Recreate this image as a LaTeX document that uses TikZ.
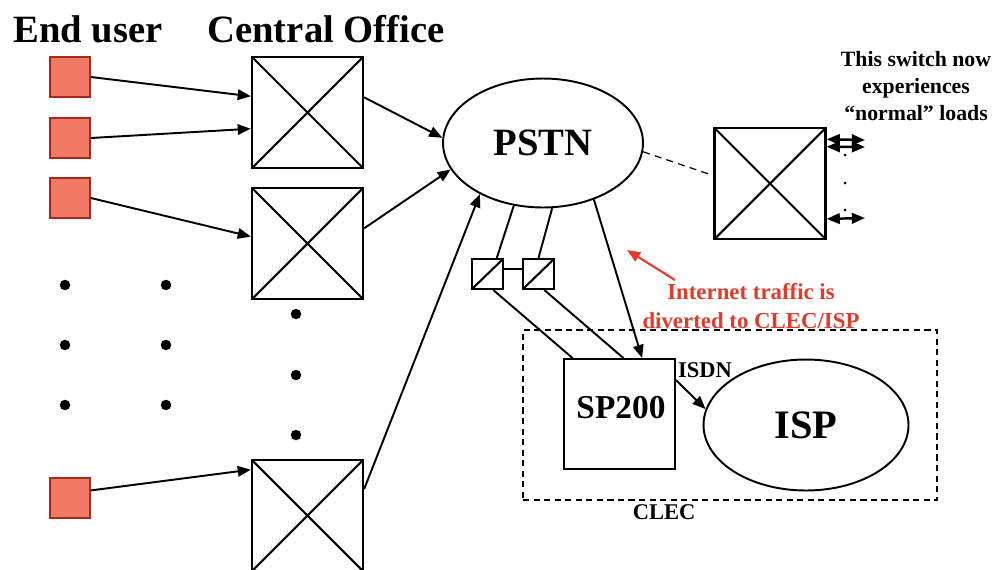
\documentclass[tikz,border=0pt]{standalone}
\usepackage{fontspec}
\setmainfont{Liberation Serif}
\usepackage{xcolor}
\definecolor{userfill}{HTML}{F07A64}
\definecolor{userline}{HTML}{A8281C}
\definecolor{alert}{HTML}{E53A2A}
\usepackage{tikz}
\usetikzlibrary{arrows.meta,shapes.geometric}
\tikzset{
    >={Triangle[length=7.5pt,width=6pt]},
    user/.style = {
      draw=userline,
      fill=userfill,
      line width=1pt,
      minimum size=0.8cm,
      inner sep=0pt
    },
    switch/.style = {
      draw,
      line width=1.3pt,
      minimum size=2.22cm,
      inner sep=0pt,
      path picture={
        \draw[line width=1.2pt]
          (path picture bounding box.south west) -- (path picture bounding box.north east)
          (path picture bounding box.north west) -- (path picture bounding box.south east);
      }
    },
    mini/.style = {
      draw,
      line width=1.2pt,
      minimum width=0.62cm,
      minimum height=0.6cm,
      inner sep=0pt,
      path picture={
        \draw[line width=1.2pt]
          (path picture bounding box.south west) -- (path picture bounding box.north east);
      }
    },
    net/.style = {
      ellipse,
      draw,
      line width=1.1pt,
      inner sep=0pt
    },
    box/.style = {
      draw,
      line width=1.1pt,
      minimum width=2.22cm,
      minimum height=2.2cm,
      inner sep=0pt
    },
    clec/.style = {
      draw,
      line width=1.3pt,
      dash pattern=on 3.5pt off 2.5pt,
      minimum width=8.28cm,
      minimum height=3.4cm,
      inner sep=0pt
    },
    head/.style = {
      anchor=base,
      inner sep=0pt,
      font=\bfseries\fontsize{22}{26}\selectfont
    },
    small/.style = {
      anchor=base,
      inner sep=0pt,
      font=\bfseries\fontsize{12.8}{15}\selectfont
    },
    dot/.style = {
      circle,
      fill=black,
      inner sep=0pt,
      minimum size=0.21cm
    },
    tinydot/.style = {
      circle,
      fill=black,
      inner sep=0pt,
      minimum size=0.06cm
    }
}

\begin{document}
\begin{tikzpicture}[x=0.02cm, y=-0.02cm, line width=1.1pt]
      \useasboundingbox (0,0) rectangle (999,569);

      \node[head] (H1) at (88,42)  {End user};
      \node[head] (H2) at (326,42) {Central Office};

      \node[user] (U1) at (70,77)  {};
      \node[user] (U2) at (70,138) {};
      \node[user] (U3) at (70,198) {};
      \node[user] (U4) at (70,498) {};

      \node[switch] (C1) at (307.5,112.5) {};
      \node[switch] (C2) at (307.5,243.5) {};
      \node[switch] (C3) at (307.5,515.5) {};
      \node[switch] (R)  at (770,183.5)   {};

      \foreach \y [count=\i] in {285,345,405} {
        \node[dot] (La\i) at (65,\y)  {};
        \node[dot] (Lb\i) at (166,\y) {};
      }
      \foreach \y [count=\i] in {314,375,435}
        \node[dot] (Lc\i) at (296,\y) {};

      \node[net, minimum width=4cm, minimum height=2.58cm,
            font=\bfseries\fontsize{22}{26}\selectfont] (P) at (543,143) {PSTN};

      \node[mini] (A) at (487.5,274) {};
      \node[mini] (B) at (538.5,274) {};

      \node[clec] (K) at (730,415) {};
      \node[small] (Kt) at (664,519) {CLEC};

      \node[box] (S) at (619.5,414) {};
      \node[anchor=base, inner sep=0pt,
            font=\bfseries\fontsize{19}{22}\selectfont] (St) at (621,418) {SP200};
      \node[net, minimum width=4.1cm, minimum height=2.62cm,
            font=\bfseries\fontsize{23}{26}\selectfont] (I) at (806,425) {ISP};
      \node[small] (N) at (705,377) {ISDN};

      \node[align=center, inner sep=0pt,
            font=\bfseries\fontsize{12.4}{15.3}\selectfont] (Rt) at (916,86)
            {This switch now\\experiences\\“normal” loads};
      \node[tinydot] (Rd1) at (845,155) {};
      \node[tinydot] (Rd2) at (845,183) {};
      \node[tinydot] (Rd3) at (845,210) {};
      \coordinate (r1) at (865,140);
      \coordinate (r2) at (865,147);
      \coordinate (r3) at (865,218);

      \node[align=center, inner sep=0pt, text=alert,
            font=\bfseries\fontsize{13}{16.4}\selectfont] (T) at (751,306)
            {Internet traffic is\\diverted to CLEC/ISP};
      \coordinate (ta) at (675,280);
      \coordinate (tb) at (627,250);

      \draw[->] (U1.east) -- (C1.164);
      \draw[->] (U2.east) -- (C1.196);
      \draw[->] (U3.east) -- (C2.173);
      \draw[->] (U4.20)   -- (C3.141);

      \draw[->] (C1.15) -- (P.177);
      \draw[->] (C2.15) -- (P.196);
      \draw[->] (C3.25) -- (P.219);

      \draw (P.245) -- (A.60);
      \draw (P.278) -- (B.north);
      \draw (A.18) -- (B.162);
      \draw (A.-70) -- (S.130);
      \draw (B.-70) -- (S.86);
      \draw[->] (P.312) -- (S.68);
      \draw[->] (S.31) -- (I.171);

      \draw[line width=0.7pt, dash pattern=on 4pt off 3pt] (P.355) -- (R.172);
      \draw[<->, line width=1.4pt] (R.38)  -- (r1);
      \draw[<->, line width=1.4pt] (R.33)  -- (r2);
      \draw[<->, line width=1.4pt] (R.-32) -- (r3);

      \draw[->, alert, line width=1.2pt] (ta) -- (tb);
\end{tikzpicture}
\end{document}
